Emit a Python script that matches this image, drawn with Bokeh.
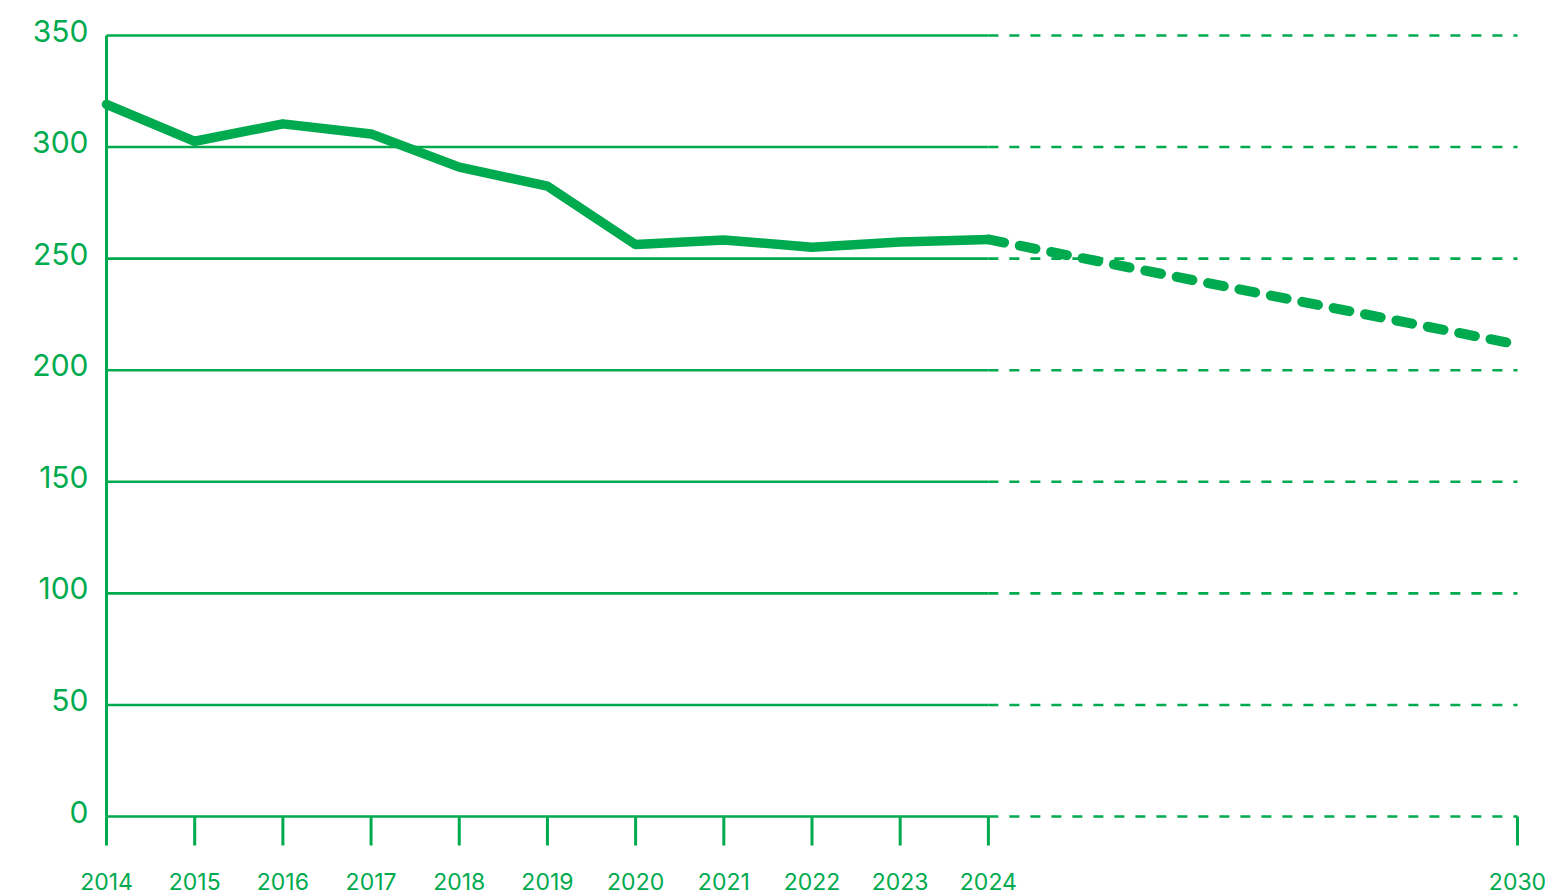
from bokeh.plotting import figure
from bokeh.embed import file_html
from bokeh.resources import INLINE
from bokeh.models import ColumnDataSource, Range1d
from bokeh.core.properties import value

# ---- data ----
years_actual = [2014, 2015, 2016, 2017, 2018, 2019, 2020, 2021, 2022, 2023, 2024]
values_actual = [319.1, 302.6, 310.4, 305.9, 291.0, 282.5, 256.3, 258.4, 255.1, 257.5, 258.6]
years_target = [2024, 2030]
values_target = [258.6, 211.5]
y_ticks = [0, 50, 100, 150, 200, 250, 300, 350]
y_tick_labels = ["0", "50", "100", "150", "200", "250", "300", "350"]
x_ticks = [2014, 2015, 2016, 2017, 2018, 2019, 2020, 2021, 2022, 2023, 2024, 2030]
x_tick_labels = [str(v) for v in x_ticks]

GREEN = "#00AA4E"
FONT = "Inter"

W, H = 1548, 896
# pixel mapping (canvas coordinates)
x0_px, x1_px = 106.0, 1517.0          # 2014, 2030
ppy = (x1_px - x0_px) / 16.0
y0_px, y350_px = 816.0, 35.0          # from top
ppu = (y0_px - y350_px) / 350.0

x_start = 2014 - x0_px / ppy
x_end = x_start + W / ppy
y_start = -(H - y0_px) / ppu
y_end = 350 + y350_px / ppu

p = figure(width=W, height=H, output_backend="svg", toolbar_location=None,
           x_axis_location=None, y_axis_location=None,
           x_range=Range1d(x_start, x_end), y_range=Range1d(y_start, y_end),
           min_border=0, outline_line_color=None)
p.grid.visible = False
p.background_fill_color = "white"
p.border_fill_color = "white"

# gridlines: solid to 2024, dashed to 2030
p.segment(x0=[2014] * len(y_ticks), y0=y_ticks, x1=[2024] * len(y_ticks), y1=y_ticks,
          line_color=GREEN, line_width=2.6)
p.segment(x0=[2024] * len(y_ticks), y0=y_ticks, x1=[2030] * len(y_ticks), y1=y_ticks,
          line_color=GREEN, line_width=2.6, line_dash="10 11")

# y axis line
p.segment(x0=[2014], y0=[0], x1=[2014], y1=[350], line_color=GREEN, line_width=3)

# x tick marks
tick_len = 29.0 / ppu
p.segment(x0=x_ticks, y0=[0] * len(x_ticks), x1=x_ticks, y1=[-tick_len] * len(x_ticks),
          line_color=GREEN, line_width=3)

# x tick labels
p.text(x=x_ticks, y=[-65.0 / ppu] * len(x_ticks), text=x_tick_labels,
       text_font=value(FONT), text_font_size="23px", text_color=GREEN,
       text_align="center", text_baseline="middle")

# y tick labels
p.text(x=[2014 - 18.0 / ppy] * len(y_ticks), y=[v + 5.0 / ppu for v in y_ticks], text=y_tick_labels,
       text_font=value(FONT), text_font_size="30px", text_color=GREEN,
       text_align="right", text_baseline="middle")

# data lines
src_a = ColumnDataSource(dict(x=years_actual, y=values_actual))
src_t = ColumnDataSource(dict(x=years_target, y=values_target))
p.line("x", "y", source=src_t, line_color=GREEN, line_width=10, line_dash="16 16",
       line_cap="round", line_join="round")
p.line("x", "y", source=src_a, line_color=GREEN, line_width=9.5,
       line_cap="round", line_join="round")

open("out.html", "w").write(file_html(p, INLINE))
